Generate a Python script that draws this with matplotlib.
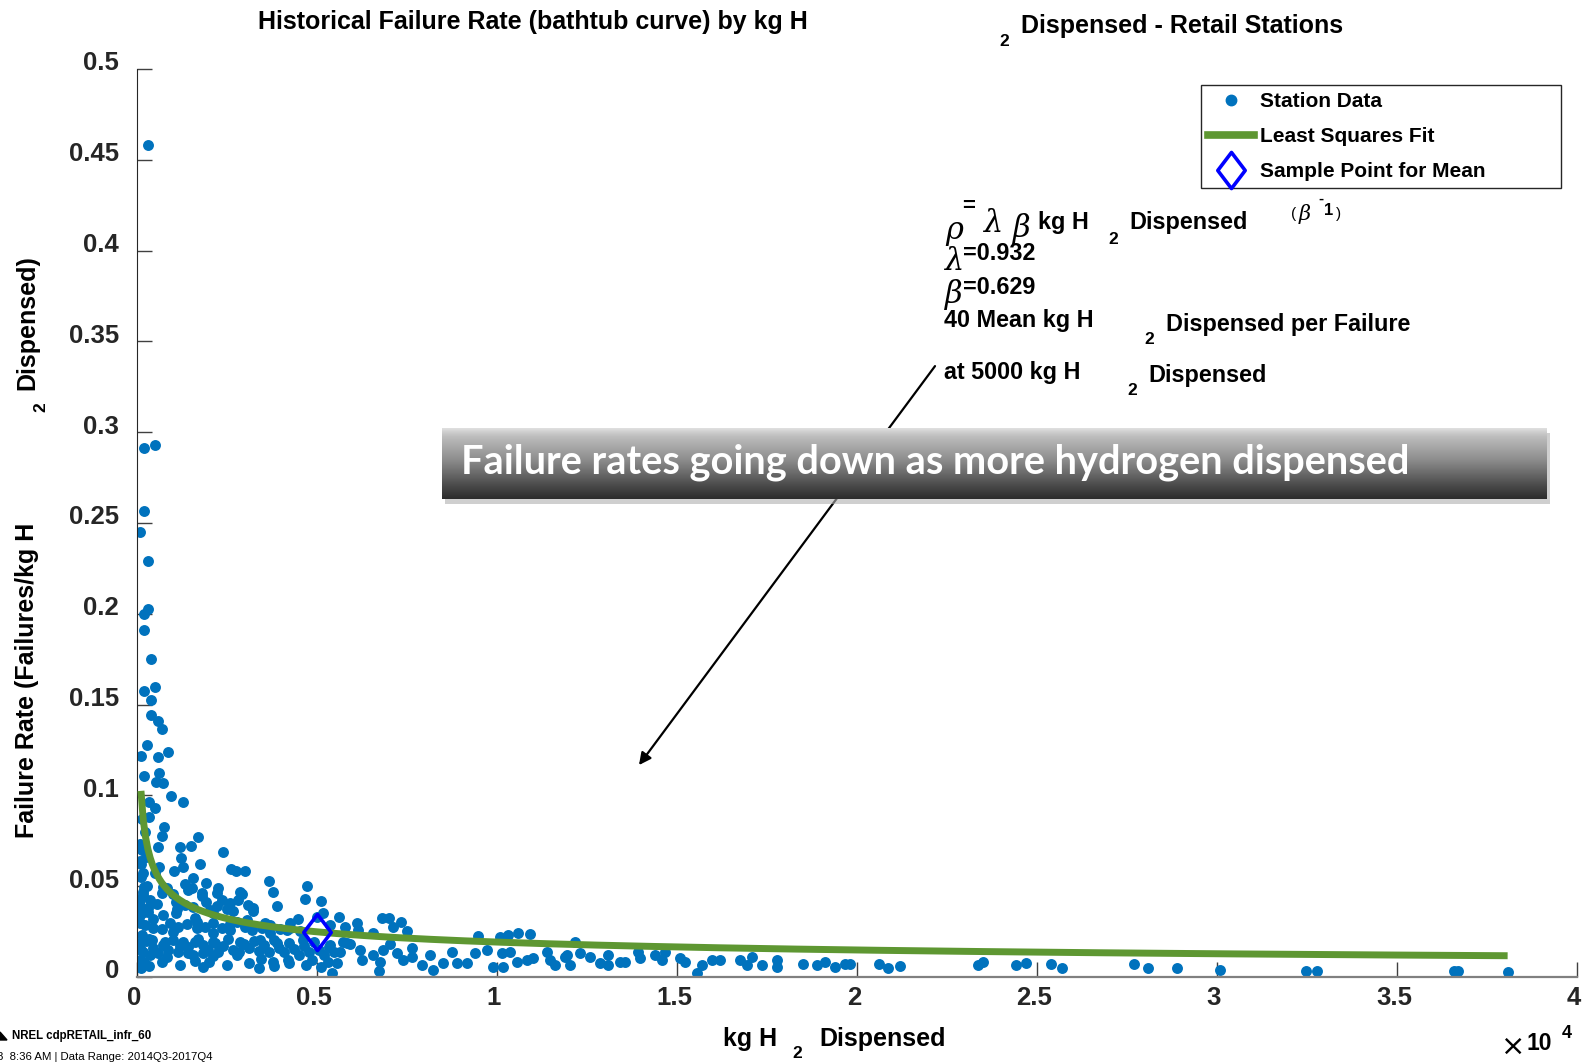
import numpy as np
import matplotlib
matplotlib.use("Agg")
import matplotlib.pyplot as plt
from matplotlib.lines import Line2D
from matplotlib.path import Path
from matplotlib.patches import Rectangle, Polygon
import matplotlib.transforms as mtransforms

W, H = 1585, 1062

# station data: kg H2 dispensed, failures per kg H2
kg = [297, 203, 491, 194, 92, 297,
      315, 194, 194, 389, 194, 491, 398, 398, 593, 694, 287, 852, 102, 593,
      194, 620, 519, 731, 944, 1287, 343, 491, 343, 741, 83, 685, 593, 1694,
      1194, 1491, 2398, 83, 1222, 1750, 2602, 2750, 3000, 620, 1037, 1269,
      176, 491, 1565, 1917, 3667, 185, 685, 824, 1333, 1519, 1796, 2231,
      2907, 3787, 4713, 2815, 3880, 4667, 5111, 83, 361, 1083, 1917, 2352,
      2583, 3213, 185, 731, 1083, 1611, 2120, 3046, 3556, 4250, 4481, 5176,
      5620, 6102, 83, 454, 1009, 1657, 2120, 2583, 3185, 3694, 4157, 83, 407,
      778, 1194, 1611, 2167, 2861, 3417, 3880, 4620, 5361, 5731, 83, 361,
      824, 1426, 1824, 2102, 2769, 3435, 3787, 4231, 4852, 5315, 5407, 111,
      176, 731, 1009, 1426, 1796, 2259, 2861,
      83, 315, 546, 1102, 1333, 1565, 2028, 2213, 2491, 2676, 3093, 3231,
      60, 222, 454, 685, 917, 1148, 1380, 1657, 1889, 2120, 2352, 2583, 2769,
      3000, 3463, 3694, 3972, 4250, 4528, 4991, 5361,
      60, 180, 320, 450, 590, 730, 870, 1000, 1140, 1280, 1420, 1560, 1700,
      1840, 1980, 2120, 2260, 2400, 2540, 2680, 2820, 2960, 3100, 3240, 3380,
      3520, 3660, 3800, 3940, 4080, 4220, 4360, 4500, 4640, 4780, 4920, 5060,
      5200, 5340, 5480,
      60, 330, 700, 1200, 1600, 1830, 2000, 2500, 3100, 3400, 3800, 4200,
      4700, 5100, 5550,
      110, 140, 90, 160, 120, 100, 150, 220, 130, 250, 280, 300, 260, 200,
      5778, 6148, 6797, 7009, 7121, 7325, 7491, 6565, 9482, 10084, 10315,
      10593, 10917, 5824, 5639, 5917, 6195, 6241, 6565, 6843, 7028, 7213,
      6750, 6713, 7398, 7630, 7630, 7908, 8139, 8213, 8509, 8741, 8880, 9158,
      9389, 9713, 9898, 10130, 10361, 10176, 10547, 10824, 11009, 11380,
      11472, 11611, 11889,
      12168, 11936, 12029, 12307, 12584, 12862, 13093, 13093, 13418, 13557,
      13927, 13973, 14390, 14575, 14668, 15084, 15223, 15547, 15686, 15964,
      16195, 16751, 16936, 17075, 17353, 17770, 17770, 18510, 18881, 19113,
      19390, 19668, 19807, 20621, 20872, 21196, 23372, 23492,
      24407, 24686, 25399, 25697, 27689, 28086, 28881, 30080, 32480, 32777,
      36587, 36705, 38073]
rate = [0.4584, 0.2913, 0.2932, 0.2568, 0.2449, 0.2289,
        0.2027, 0.1997, 0.1911, 0.1750, 0.1577, 0.1599, 0.1525, 0.1443, 0.1412,
        0.1364, 0.1278, 0.1241, 0.1219, 0.1210, 0.1109, 0.1122, 0.1076, 0.1070,
        0.0997, 0.0964, 0.0964, 0.0933, 0.0883, 0.0824, 0.0732, 0.0776, 0.0718,
        0.0771, 0.0718, 0.0723, 0.0687, 0.0641, 0.0653, 0.0620, 0.0595, 0.0586,
        0.0586, 0.0608, 0.0586, 0.0608, 0.0571, 0.0571, 0.0547, 0.0519, 0.0530,
        0.0497, 0.0461, 0.0488, 0.0512, 0.0488, 0.0464, 0.0461, 0.0457, 0.0470,
        0.0501, 0.0424, 0.0393, 0.0428, 0.0420, 0.0424, 0.0424, 0.0415, 0.0415,
        0.0424, 0.0406, 0.0365, 0.0360, 0.0341, 0.0351, 0.0323, 0.0351, 0.0314,
        0.0296, 0.0296, 0.0318, 0.0351, 0.0332, 0.0296, 0.0296, 0.0268, 0.0250,
        0.0268, 0.0241, 0.0259, 0.0259, 0.0241, 0.0259, 0.0185, 0.0204, 0.0195,
        0.0173, 0.0195, 0.0185, 0.0195, 0.0204, 0.0185, 0.0204, 0.0176, 0.0195,
        0.0094, 0.0121, 0.0112, 0.0130, 0.0130, 0.0117, 0.0121, 0.0099, 0.0084,
        0.0075, 0.0094, 0.0084, 0.0020, 0.0051,
        0.0470, 0.0497, 0.0455, 0.0479, 0.0445, 0.0490, 0.0468,
        0.0392, 0.0380, 0.0401, 0.0373, 0.0396, 0.0384, 0.0367, 0.0389, 0.0376,
        0.0364, 0.0398, 0.0380,
        0.0310, 0.0285, 0.0320, 0.0262, 0.0300, 0.0275, 0.0292, 0.0305, 0.0278,
        0.0296, 0.0270, 0.0290, 0.0305, 0.0275, 0.0268, 0.0285, 0.0262, 0.0270,
        0.0255, 0.0330, 0.0285,
        0.0180, 0.0140, 0.0210, 0.0160, 0.0130, 0.0175, 0.0150, 0.0205, 0.0140,
        0.0190, 0.0165, 0.0120, 0.0210, 0.0175, 0.0150, 0.0195, 0.0140, 0.0170,
        0.0210, 0.0150, 0.0135, 0.0180, 0.0160, 0.0200, 0.0145, 0.0175, 0.0135,
        0.0205, 0.0160, 0.0140, 0.0185, 0.0155, 0.0120, 0.0170, 0.0140, 0.0195,
        0.0150, 0.0120, 0.0165, 0.0140,
        0.0070, 0.0060, 0.0085, 0.0065, 0.0090, 0.0055, 0.0080, 0.0065, 0.0075,
        0.0050, 0.0060, 0.0095, 0.0065, 0.0055, 0.0075,
        0.0150, 0.0230, 0.0340, 0.0450, 0.0550, 0.0620, 0.0700, 0.0800, 0.0870,
        0.0660, 0.0500, 0.0360, 0.0200, 0.0080,
        0.0274, 0.0259, 0.0323, 0.0323, 0.0277, 0.0305, 0.0255, 0.0244, 0.0228,
        0.0218, 0.0231, 0.0241, 0.0235, 0.0185, 0.0140, 0.0180, 0.0149, 0.0094,
        0.0121, 0.0149, 0.0180, 0.0130, 0.0084, 0.0035, 0.0094, 0.0158, 0.0112,
        0.0066, 0.0121, 0.0039, 0.0075, 0.0140, 0.0075, 0.0075, 0.0130, 0.0149,
        0.0057, 0.0130, 0.0140, 0.0057, 0.0084, 0.0094, 0.0103, 0.0140, 0.0094,
        0.0066, 0.0112,
        0.0195, 0.0121, 0.0066, 0.0130, 0.0112, 0.0075, 0.0121, 0.0066, 0.0084,
        0.0084, 0.0140, 0.0103, 0.0121, 0.0094, 0.0140, 0.0103, 0.0084, 0.0020,
        0.0066, 0.0094, 0.0094, 0.0094, 0.0066, 0.0112, 0.0066, 0.0094, 0.0053,
        0.0070, 0.0066, 0.0084, 0.0056, 0.0072, 0.0072, 0.0072, 0.0048, 0.0062,
        0.0066, 0.0084,
        0.0066, 0.0079, 0.0072, 0.0051, 0.0072, 0.0051, 0.0051, 0.0039, 0.0033,
        0.0033, 0.0033, 0.0033, 0.0029]

# power-law fit  rho = lambda * beta * kg^(beta - 1)
lam = 0.932
beta = 0.629
sample_kg = 5000
fit_start, fit_end = 110, 38073

xticks = [0, 5000, 10000, 15000, 20000, 25000, 30000, 35000, 40000]
xticklabels = ["0", "0.5", "1", "1.5", "2", "2.5", "3", "3.5", "4"]
yticks = [0, 0.05, 0.1, 0.15, 0.2, 0.25, 0.3, 0.35, 0.4, 0.45, 0.5]
yticklabels = ["0", "0.05", "0.1", "0.15", "0.2", "0.25", "0.3", "0.35", "0.4", "0.45", "0.5"]

BLUE = "#0072BD"
GREEN = "#5E9732"
SANS = "Liberation Sans"

fig = plt.figure(figsize=(W / 100, H / 100), dpi=100)
ax = fig.add_axes([137 / W, 1 - 977 / H, (1577 - 137) / W, (977 - 69) / H])

diamond = Path([(0, 1), (0.76, 0), (0, -1), (-0.76, 0), (0, 1)],
               [Path.MOVETO, Path.LINETO, Path.LINETO, Path.LINETO, Path.CLOSEPOLY])

xfit = np.linspace(fit_start, fit_end, 600)
yfit = lam * beta * xfit ** (beta - 1)
sample_rate = lam * beta * sample_kg ** (beta - 1)

ax.scatter(kg, rate, s=62, color=BLUE, linewidths=0, zorder=2)
ax.plot(xfit, yfit, color=GREEN, lw=5, solid_capstyle="butt", zorder=3)
ax.plot([sample_kg], [sample_rate], marker=diamond, ms=26, mfc="none",
        mec="#0000FF", mew=2.6, ls="none", zorder=4)

ax.set_xlim(0, 40000)
ax.set_ylim(0, 0.5)
ax.set_xticks(xticks)
ax.set_xticklabels(xticklabels)
ax.set_yticks(yticks)
ax.set_yticklabels(yticklabels)
for s in ["top", "right"]:
    ax.spines[s].set_visible(False)
ax.spines["left"].set_color("#262626")
ax.spines["bottom"].set_color("#808080")
ax.spines["bottom"].set_linewidth(1.6)
ax.tick_params(direction="in", length=11, width=1, color="#404040",
               labelsize=18.5, labelcolor="#262626")
ax.tick_params(axis="y", pad=13)
ax.tick_params(axis="x", pad=6.5)
for lab in ax.get_yticklabels():
    lab.set_fontfamily(SANS)
    lab.set_fontweight("bold")
    lab.set_transform(lab.get_transform() + mtransforms.ScaledTranslation(0, 0.08, fig.dpi_scale_trans))
for lab in ax.get_xticklabels():
    lab.set_fontfamily(SANS)
    lab.set_fontweight("bold")
    lab.set_transform(lab.get_transform() + mtransforms.ScaledTranslation(-0.03, 0, fig.dpi_scale_trans))

# arrow from the annotation down toward the tail of the data
ax.annotate("", xy=(13944, 0.1167), xytext=(22167, 0.3364),
            arrowprops=dict(arrowstyle="-|>", color="black", lw=1.6,
                            mutation_scale=18, shrinkA=0, shrinkB=0), zorder=1)

handles = [
    Line2D([], [], marker="o", ms=7.5, color=BLUE, ls="none"),
    Line2D([], [], color=GREEN, lw=5.5),
    Line2D([], [], marker=diamond, ms=26, mfc="none", mec="#0000FF", mew=2.6, ls="none"),
]
leg = ax.legend(handles, ["Station Data", "Least Squares Fit", "Sample Point for Mean"],
                loc="upper left", bbox_to_anchor=(1201 / W, 1 - 188 / H, 360 / W, 103 / H),
                bbox_transform=fig.transFigure, mode="expand", borderaxespad=0,
                prop={"family": SANS, "weight": "bold", "size": 15},
                frameon=True, fancybox=False, edgecolor="#262626", framealpha=1,
                handlelength=2.2, handletextpad=0.3, labelspacing=0.76, borderpad=0.35)
leg.get_frame().set_linewidth(1)


def ftext(x, y, s, size=16.8, weight="bold", family=SANS, **kw):
    kw.setdefault("va", "center")
    fig.text(x / W, 1 - y / H, s, fontsize=size, fontweight=weight,
             fontfamily=family, color="black", **kw)


def greek(x, y, s, size=22):
    ftext(x, y, s, size=size, weight="normal", family="DejaVu Serif", style="italic")


# title
ftext(258, 22, "Historical Failure Rate (bathtub curve) by kg H", size=18)
ftext(999, 42, "2", size=12.5)
ftext(1021, 26, "Dispensed - Retail Stations", size=18)

# axis labels
ftext(723, 1039, "kg H", size=18)
ftext(797, 1053, "2", size=12.5, ha="center")
ftext(819, 1039, "Dispensed", size=18)
ftext(27, 680, "Failure Rate (Failures/kg H", size=18, rotation=90, ha="center")
ftext(41, 407, "2", size=12.5, rotation=90, ha="center")
ftext(27, 323, "Dispensed)", size=18, rotation=90, ha="center")

# x10^4 multiplier
ftext(1513, 1055, "\u00d7", size=21, weight="normal", family="DejaVu Sans",
      ha="center", va="baseline")
ftext(1527, 1043, "10", size=16.5)
ftext(1567, 1033, "4", size=13, ha="center")

# fit equation and summary
greek(945, 230, "\u03c1")
ftext(969, 207, "=", size=16, ha="center")
greek(984, 224, "\u03bb")
greek(1013, 228, "\u03b2")
ftext(1038, 223, "kg H")
ftext(1113, 239, "2", size=12.5, ha="center")
ftext(1129, 223, "Dispensed")
ftext(1291, 214, "(", size=11, weight="normal")
greek(1299, 214, "\u03b2", size=15)
ftext(1318, 199, "-", size=11)
ftext(1324, 210, "1", size=12)
ftext(1336, 214, ")", size=11, weight="normal")

greek(945, 261, "\u03bb")
ftext(963, 254, "=0.932")
greek(945, 295, "\u03b2")
ftext(963, 288, "=0.629")
ftext(944, 321, "40 Mean kg H")
ftext(1149, 340, "2", size=12.5, ha="center")
ftext(1166, 325, "Dispensed per Failure")
ftext(944, 372, "at %d kg H" % sample_kg)
ftext(1132, 390, "2", size=12.5, ha="center")
ftext(1148, 376, "Dispensed")

# footer
ftext(12, 1036, "NREL cdpRETAIL_infr_60", size=8.3)
ftext(-3, 1057, "8  8:36 AM | Data Range: 2014Q3-2017Q4", size=8.2, weight="normal")
fig.patches.append(Polygon([(0, 1 - 1040 / H), (7 / W, 1 - 1040 / H), (0, 1 - 1032 / H)],
                           closed=True, transform=fig.transFigure, color="black"))

# grey callout banner with drop shadow
bx0, by0, bx1, by1 = 442, 428, 1547, 499
sax = fig.add_axes([(bx0 + 3) / W, 1 - (by1 + 5) / H, (bx1 - bx0) / W, (by1 - by0) / H])
sax.add_patch(Rectangle((0, 0), 1, 1, color="#b0b0b0", alpha=0.6, lw=0))
sax.axis("off")
sax.set_zorder(9)
bax = fig.add_axes([bx0 / W, 1 - by1 / H, (bx1 - bx0) / W, (by1 - by0) / H])
bax.set_zorder(10)
stops = np.array([0.0, 0.06, 0.12, 0.45, 0.8, 1.0])
levels = np.array([0.88, 0.80, 0.74, 0.55, 0.30, 0.17])
grad = np.interp(np.linspace(0, 1, 200), stops, levels)[:, None]
bax.imshow(np.repeat(grad, 2, axis=1), cmap="gray", vmin=0, vmax=1, aspect="auto",
           extent=(0, 1, 0, 1), interpolation="bilinear")
bax.set_xlim(0, 1)
bax.set_ylim(0, 1)
bax.axis("off")
bax.text(19 / (bx1 - bx0), 0.52, "Failure rates going down as more hydrogen dispensed",
         color="white", fontsize=28.6, fontfamily="Lato", fontweight="bold",
         va="center", ha="left", transform=bax.transAxes)

fig.savefig("out.png", dpi=100)
